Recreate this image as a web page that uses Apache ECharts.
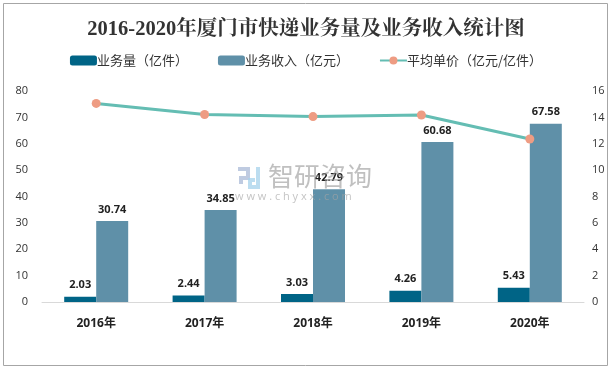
<!DOCTYPE html>
<html>
<head>
<meta charset="utf-8">
<script src="https://cdn.jsdelivr.net/npm/echarts@6/dist/echarts.min.js"></script>
<style>
html, body { margin: 0; padding: 0; background: #fff; }
#main { width: 612px; height: 370px; }
</style>
</head>
<body>
<div id="main"></div>
<script>
const years = ['2016年', '2017年', '2018年', '2019年', '2020年']
const volume = [2.03, 2.44, 3.03, 4.26, 5.43]
const revenue = [30.74, 34.85, 42.79, 60.68, 67.58]
const unitPrice = [15.06, 14.22, 14.06, 14.18, 12.36]
const seriesNames = ['业务量（亿件）', '业务收入（亿元）', '平均单价（亿元/亿件）']

const cjk = '"Noto Sans CJK SC", sans-serif'
const chart = echarts.init(document.getElementById('main'))

const barLabel = {
  show: true,
  position: 'top',
  distance: 6,
  color: '#222',
  fontSize: 11,
  fontWeight: 'bold',
  fontFamily: '"Open Sans", ' + cjk,
  formatter: p => p.value.toFixed(2)
}

chart.setOption({
  animation: false,
  backgroundColor: '#fff',
  title: {
    text: '2016-2020年厦门市快递业务量及业务收入统计图',
    left: 'center',
    top: 14,
    textStyle: {
      color: '#333',
      fontSize: 20.5,
      fontWeight: 'bold',
      fontFamily: '"Liberation Serif", "Noto Serif CJK SC", ' + cjk
    }
  },
  legend: {
    top: 49,
    left: 'center',
    itemWidth: 27,
    itemHeight: 10,
    itemGap: 30,
    textStyle: { color: '#333', fontSize: 13, fontFamily: cjk, padding: [0, 0, 0, -5] },
    data: seriesNames
  },
  grid: { left: 42, right: 28, top: 91, bottom: 68 },
  xAxis: {
    type: 'category',
    data: years,
    axisTick: { show: false },
    axisLine: { lineStyle: { color: '#d9d9d9', width: 1 } },
    axisLabel: {
      margin: 16,
      color: '#222',
      fontSize: 12,
      fontWeight: 'bold',
      fontFamily: '"Open Sans", ' + cjk
    }
  },
  yAxis: [
    {
      type: 'value',
      min: 0,
      max: 80,
      interval: 10,
      splitLine: { show: false },
      axisLine: { show: false },
      axisTick: { show: false },
      axisLabel: { color: '#333', fontSize: 11, margin: 14, fontFamily: '"Open Sans", sans-serif' }
    },
    {
      type: 'value',
      min: 0,
      max: 16,
      interval: 2,
      splitLine: { show: false },
      axisLine: { show: false },
      axisTick: { show: false },
      axisLabel: { color: '#333', fontSize: 11, margin: 8, fontFamily: '"Open Sans", sans-serif' }
    }
  ],
  series: [
    {
      name: seriesNames[0],
      type: 'bar',
      data: volume,
      barWidth: 32,
      barGap: 0,
      itemStyle: { color: '#006486' },
      label: barLabel
    },
    {
      name: seriesNames[1],
      type: 'bar',
      data: revenue,
      barWidth: 32,
      itemStyle: { color: '#5f90a8' },
      label: barLabel
    },
    {
      name: seriesNames[2],
      type: 'line',
      yAxisIndex: 1,
      data: unitPrice,
      symbol: 'circle',
      symbolSize: 9,
      lineStyle: { color: '#64bdb3', width: 3 },
      itemStyle: { color: '#ee9c83' },
      z: 5
    }
  ],
  graphic: [
    {
      type: 'rect',
      silent: true,
      z: -1,
      shape: { x: 3.5, y: 3.5, width: 604, height: 362 },
      style: { fill: 'none', stroke: '#a6a6a6', lineWidth: 1 }
    },
    // watermark
    {
      type: 'text',
      silent: true,
      z: 10,
      left: 268,
      top: 163,
      style: { text: '智研咨询', fill: 'rgba(150,150,150,0.6)', font: '26px ' + cjk, letterSpacing: 4 }
    },
    {
      type: 'text',
      silent: true,
      z: 10,
      left: 235,
      top: 191,
      style: { text: 'w w w . c h y x x . c o m', fill: 'rgba(165,165,165,0.65)', font: '11px "Open Sans", sans-serif', letterSpacing: 2.4 }
    },
    {
      type: 'polyline',
      silent: true,
      z: 10,
      shape: { points: [[238, 169], [248, 169], [248, 178], [241, 178], [241, 184]] },
      style: { fill: 'none', stroke: 'rgba(170,185,215,0.75)', lineWidth: 4 }
    },
    {
      type: 'polyline',
      silent: true,
      z: 10,
      shape: { points: [[258, 167], [258, 187], [250, 187], [250, 180], [255, 180]] },
      style: { fill: 'none', stroke: 'rgba(165,210,235,0.75)', lineWidth: 4 }
    }
  ]
})
</script>
</body>
</html>
